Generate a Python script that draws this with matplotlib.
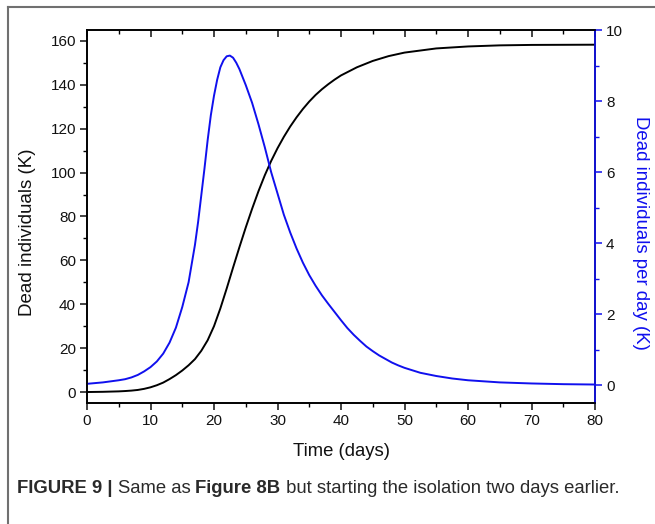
import matplotlib
matplotlib.use("Agg")
import matplotlib.pyplot as plt
from matplotlib.lines import Line2D
from matplotlib.ticker import MultipleLocator

# cumulative deaths (thousands)
cum_days = [0, 2.5, 5, 6, 7, 8, 9, 10, 11, 12, 13, 14, 15, 16, 17, 18, 19, 20, 21, 22, 23,
            24, 25, 26, 27, 28, 29, 30, 31, 32, 33, 34, 35, 36, 37, 38, 39, 40, 42.5, 45,
            47.5, 50, 55, 60, 65, 70, 80]
cum_dead = [0, 0.1, 0.3, 0.45, 0.65, 0.95, 1.45, 2.15, 3.1, 4.3, 5.9, 7.7, 9.8, 12.2, 15.0,
            18.8, 23.6, 30.0, 38.1, 47.2, 56.7, 66.0, 75.0, 83.5, 91.5, 98.8, 105.3, 111.1,
            116.3, 121.0, 125.2, 129.0, 132.4, 135.4, 138.0, 140.3, 142.4, 144.3, 148.0,
            150.9, 153.1, 154.7, 156.6, 157.5, 158.0, 158.2, 158.3]

# deaths per day (thousands)
day_days = [0, 2.5, 5, 6, 7, 8, 9, 10, 11, 12, 13, 14, 15, 16, 17, 17.5, 18, 18.5, 19, 19.5,
            20, 20.5, 21, 21.5, 22, 22.5, 23, 23.5, 24, 25, 26, 27, 28, 29, 30, 31, 32, 33,
            34, 35, 36, 37, 38, 39, 40, 41, 42, 43, 44, 45, 46, 47, 48, 49, 50, 52.5, 55,
            57.5, 60, 65, 70, 75, 80]
day_dead = [0.04, 0.08, 0.14, 0.17, 0.22, 0.29, 0.39, 0.51, 0.67, 0.89, 1.2, 1.62, 2.2,
            2.9, 3.95, 4.6, 5.35, 6.1, 6.9, 7.6, 8.15, 8.6, 8.95, 9.15, 9.26, 9.28, 9.22,
            9.08, 8.9, 8.45, 7.95, 7.35, 6.7, 6.0, 5.4, 4.8, 4.3, 3.85, 3.45, 3.1, 2.8,
            2.53, 2.29, 2.06, 1.83, 1.61, 1.42, 1.25, 1.09, 0.96, 0.84, 0.74, 0.64, 0.56,
            0.49, 0.35, 0.26, 0.19, 0.14, 0.08, 0.05, 0.03, 0.02]

x_ticks = [0, 10, 20, 30, 40, 50, 60, 70, 80]
left_ticks = [0, 20, 40, 60, 80, 100, 120, 140, 160]
right_ticks = [0, 2, 4, 6, 8, 10]

plt.rcParams["font.family"] = ["Liberation Sans", "DejaVu Sans"]

W, H = 655, 524
BLUE = "#1010ee"
fig = plt.figure(figsize=(W / 100, H / 100), dpi=100)
ax = fig.add_axes([87 / W, 1 - 403 / H, (595 - 87) / W, (403 - 30) / H])
ax2 = ax.twinx()

ax.plot(cum_days, cum_dead, color="black", lw=1.4)
ax2.plot(day_days, day_dead, color=BLUE, lw=1.4)

ax.set_xlim(0, 80)
ax.set_ylim(-5, 165)
ax2.set_ylim(-0.5, 10)

ax.set_xticks(x_ticks)
ax.set_yticks(left_ticks)
ax2.set_yticks(right_ticks)
ax.xaxis.set_minor_locator(MultipleLocator(5))
ax.yaxis.set_minor_locator(MultipleLocator(10))
ax2.yaxis.set_minor_locator(MultipleLocator(1))

for spine in list(ax.spines.values()) + list(ax2.spines.values()):
    spine.set_linewidth(1.2)
ax2.spines["right"].set_color(BLUE)

ax.tick_params(axis="both", which="major", direction="out", length=5, width=1.1,
               labelsize=11, colors="#111111", pad=3)
ax.tick_params(axis="both", which="minor", direction="out", length=3, width=1.0)
ax.tick_params(axis="x", which="both", top=True)
ax.tick_params(axis="y", which="both", right=False)
ax2.tick_params(axis="y", which="major", direction="out", length=5, width=1.1, color=BLUE,
                labelcolor="#111111", labelsize=11, pad=3)
ax2.tick_params(axis="y", which="minor", direction="out", length=3, width=1.0, color=BLUE)

# top ticks point inwards
for t in ax.xaxis.get_major_ticks() + ax.xaxis.get_minor_ticks():
    t.tick2line.set_marker(matplotlib.markers.TICKDOWN)

fig.text(341 / W, 1 - 452 / H, "Time (days)", fontsize=13.3, color="#111111",
         ha="center", va="center")
fig.text(28 / W, 1 - 232 / H, "Dead individuals (K)", fontsize=13.5, color="#111111",
         rotation=90, ha="center", va="center")
fig.text(640 / W, 1 - 233 / H, "Dead individuals per day (K)", fontsize=13.4, color=BLUE,
         rotation=270, ha="center", va="center")

# figure frame (left and top edges)
fig.add_artist(Line2D([7.5 / W, 7.5 / W], [0, 1 - 7 / H], color="#707070", lw=1.5))
fig.add_artist(Line2D([7.5 / W, 1], [1 - 7 / H, 1 - 7 / H], color="#707070", lw=1.5))

# caption with mixed weights
caption = [("FIGURE 9 | ", "bold"), ("Same as ", "normal"), ("Figure 8B", "bold"),
           (" but starting the isolation two days earlier.", "normal")]
fig.canvas.draw()
renderer = fig.canvas.get_renderer()
x = 17
for text, weight in caption:
    t = fig.text(x / W, 1 - 493 / H, text, fontsize=13.3, fontweight=weight,
                 color="#2a2a2a", va="baseline", ha="left")
    x += t.get_window_extent(renderer).width

fig.savefig("out.png", dpi=100)
